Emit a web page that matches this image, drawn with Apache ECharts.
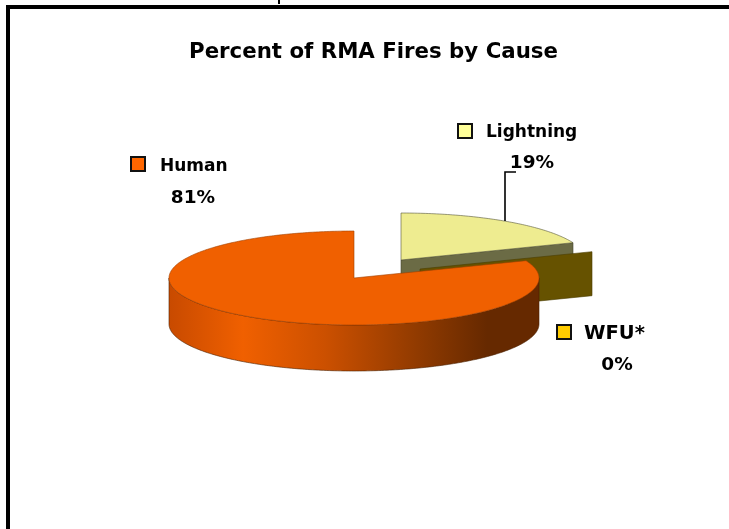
<!DOCTYPE html>
<html><head><meta charset="utf-8">
<script src="https://cdn.jsdelivr.net/npm/echarts@6/dist/echarts.min.js"></script>
<style>html,body{margin:0;padding:0;background:#fff}#c{width:729px;height:529px}</style>
</head><body><div id="c"></div>
<script>
const categories = ['Lightning', 'WFU*', 'Human'];
const values = [19, 0, 81];
const titleText = 'Percent of RMA Fires by Cause';

const FONT = '"DejaVu Sans", sans-serif';
const geo = {cx: 354, cy: 278, rx: 185, ry: 47, depth: 46, thinWallDepth: 44};
const explode = {Lightning: [47, -18], 'WFU*': [66, -9], Human: [0, 0]};
const topColor = {Lightning: '#eeec90', 'WFU*': '#ffcc00', Human: '#f06000'};
const wallColor = {Lightning: '#6b6b45', 'WFU*': '#665200'};
const swatch = {Lightning: '#ffff99', 'WFU*': '#ffcc00', Human: '#ff6600'};
const labels = {
  Lightning: {box: [458, 124], name: [486, 133], nameSize: 17, pct: [532, 163], pctSize: 18.5},
  'WFU*': {box: [557, 325], name: [584, 334], nameSize: 19.5, pct: [617, 365], pctSize: 18.5},
  Human: {box: [131, 157], name: [160, 167], nameSize: 17, pct: [193, 198], pctSize: 18.5}
};
const total = values.reduce((a, b) => a + b, 0);

function pt(t, o, dy) {
  return [geo.cx + o[0] + geo.rx * Math.sin(t), geo.cy + o[1] + (dy || 0) - geo.ry * Math.cos(t)];
}
function arc(t0, t1, o, dy) {
  const pts = [], n = Math.max(2, Math.ceil(Math.abs(t1 - t0) / 0.015));
  for (let i = 0; i <= n; i++) pts.push(pt(t0 + (t1 - t0) * i / n, o, dy));
  return pts;
}
function poly(points, fill, stroke, w) {
  return {type: 'polygon', shape: {points}, style: {fill, stroke: stroke || fill, lineWidth: w === undefined ? 0.6 : w}};
}
function renderSlice(params, api) {
  const i = params.dataIndex, name = categories[i], v = values[i];
  const before = values.slice(0, i).reduce((a, b) => a + b, 0);
  const t0 = before / total * 2 * Math.PI, t1 = (before + v) / total * 2 * Math.PI;
  const o = explode[name], d = geo.depth;
  const apex = [geo.cx + o[0], geo.cy + o[1]];
  const kids = [];
  if (name === 'Human') {
    const a = Math.max(t0, Math.PI / 2), b = Math.min(t1, 1.5 * Math.PI);
    const wall = arc(a, b, o).concat(arc(b, a, o, d));
    const grad = new echarts.graphic.LinearGradient(geo.cx - geo.rx, 0, geo.cx + geo.rx, 0, [
      {offset: 0, color: '#c84a00'}, {offset: 0.2, color: '#f06000'}, {offset: 0.42, color: '#cc5000'},
      {offset: 0.7, color: '#8a3800'}, {offset: 0.86, color: '#662900'}, {offset: 1, color: '#662900'}
    ], true);
    kids.push(poly(wall, grad, '#4a2000'));
    kids.push(poly([apex].concat(arc(t0, t1, o)), topColor[name], '#a04000'));
  } else if (v === 0) {
    const e = pt(t0, o), w = geo.thinWallDepth;
    kids.push(poly([apex, e, [e[0], e[1] + w], [apex[0], apex[1] + w]], wallColor[name], '#4a3c00'));
  } else {
    const e = pt(t1, o);
    kids.push(poly([apex, e, [e[0], e[1] + d], [apex[0], apex[1] + d]], wallColor[name], '#444430'));
    kids.push(poly([apex].concat(arc(t0, t1, o)), topColor[name], '#55553a'));
    kids.push({type: 'polyline', shape: {points: [[505, 221], [505, 172], [516, 172]]},
      style: {stroke: '#000', lineWidth: 1.6, fill: null}});
  }
  return {type: 'group', children: kids};
}
function renderLabel(params, api) {
  const i = params.dataIndex, name = categories[i], L = labels[name];
  return {type: 'group', children: [
    {type: 'rect', shape: {x: L.box[0], y: L.box[1], width: 14, height: 14},
      style: {fill: swatch[name], stroke: '#111', lineWidth: 2}},
    {type: 'text', x: L.name[0], y: L.name[1],
      style: {text: name, font: 'bold ' + L.nameSize + 'px ' + FONT, fill: '#000', textAlign: 'left', textVerticalAlign: 'middle'}},
    {type: 'text', x: L.pct[0], y: L.pct[1],
      style: {text: values[i] + '%', font: 'bold ' + L.pctSize + 'px ' + FONT, fill: '#000', textAlign: 'center', textVerticalAlign: 'middle'}}
  ]};
}
const chart = echarts.init(document.getElementById('c'), null, {renderer: 'canvas'});
chart.setOption({
  animation: false,
  backgroundColor: '#fff',
  title: {text: titleText, left: 368.5, top: 37, textAlign: 'center',
    textStyle: {fontFamily: FONT, fontWeight: 'bold', fontSize: 21.3, color: '#000'}},
  graphic: [
    {type: 'rect', shape: {x: 6, y: 5, width: 723, height: 4}, style: {fill: '#000'}},
    {type: 'rect', shape: {x: 6, y: 5, width: 4, height: 524}, style: {fill: '#000'}},
    {type: 'rect', shape: {x: 278, y: 0, width: 2, height: 4}, style: {fill: '#000'}}
  ],
  series: [
    {type: 'custom', coordinateSystem: 'none', renderItem: renderSlice, data: values, silent: true, z: 2},
    {type: 'custom', coordinateSystem: 'none', renderItem: renderLabel, data: values, silent: true, z: 3}
  ]
});
</script></body></html>
